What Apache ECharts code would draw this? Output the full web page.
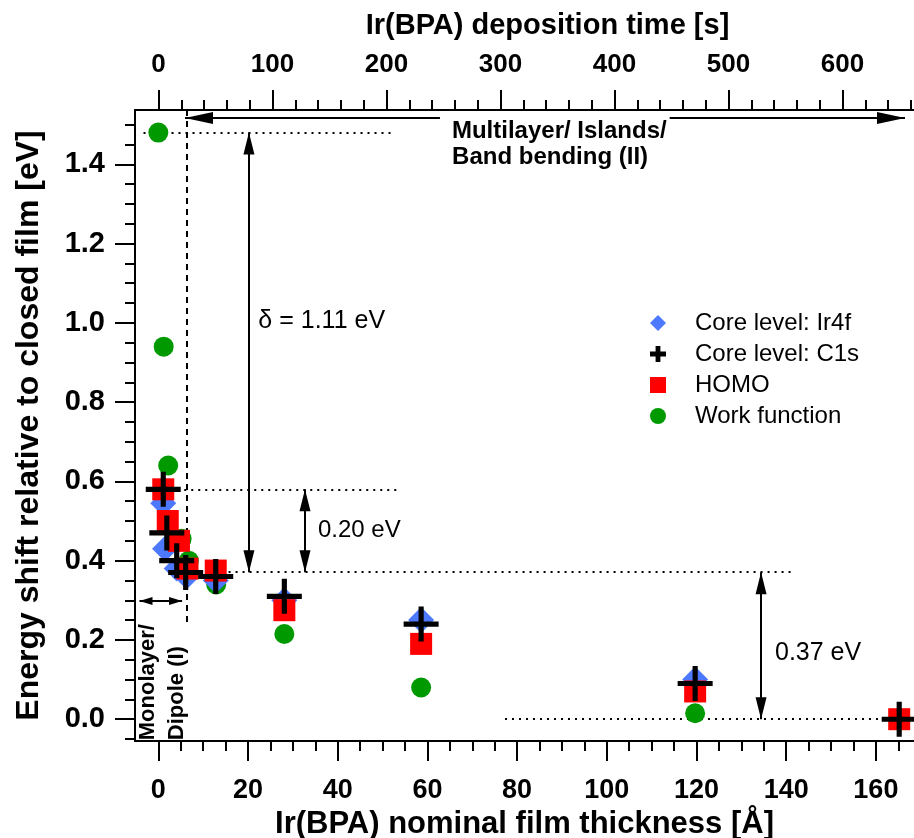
<!DOCTYPE html>
<html><head><meta charset="utf-8">
<script src="https://cdn.jsdelivr.net/npm/echarts@6/dist/echarts.min.js"></script>
<style>html,body{margin:0;padding:0;background:#fff;overflow:hidden}#c{width:914px;height:838px}</style>
</head><body><div id="c"></div>
<script>
// ---------- data ----------
const seriesNames = ['Core level: Ir4f', 'Core level: C1s', 'HOMO', 'Work function'];
const ir4fX = [1.1, 1.5, 4.1, 6.3, 12.8, 28.1, 58.6, 119.7, 165.2];
const ir4fY = [0.545, 0.43, 0.38, 0.36, 0.35, 0.30, 0.25, 0.10, 0.00];
const c1sX  = [1.1, 1.9, 4.1, 6.1, 12.8, 28.1, 58.6, 119.7, 165.2];
const c1sY  = [0.58, 0.47, 0.40, 0.37, 0.36, 0.31, 0.24, 0.09, 0.00];
const homoX = [1.1, 2.1, 4.6, 6.5, 12.8, 28.1, 58.6, 119.7, 165.2];
const homoY = [0.58, 0.50, 0.45, 0.38, 0.375, 0.275, 0.19, 0.07, 0.00];
const wfX   = [0, 1.2, 2.2, 5.2, 6.8, 12.9, 28.1, 58.6, 119.7];
const wfY   = [1.48, 0.94, 0.64, 0.455, 0.40, 0.34, 0.215, 0.08, 0.015];

const xTicks      = [0, 20, 40, 60, 80, 100, 120, 140, 160];
const xMinorTicks = [5,10,15,20,25,30,35,40,45,50,55,60,65,70,75,80,85,90,95,100,105,110,115,120,125,130,135,140,145,150,155,160,165];
const yTicks      = [0, 0.2, 0.4, 0.6, 0.8, 1.0, 1.2, 1.4];
const yMinorTicks = [-0.05,0,0.05,0.1,0.15,0.2,0.25,0.3,0.35,0.4,0.45,0.5,0.55,0.6,0.65,0.7,0.75,0.8,0.85,0.9,0.95,1.0,1.05,1.1,1.15,1.2,1.25,1.3,1.35,1.4,1.45,1.5];
const tTicks      = [0, 100, 200, 300, 400, 500, 600];
const tMinorTicks = [20,40,60,80,120,140,160,180,220,240,260,280,320,340,360,380,420,440,460,480,520,540,560,580,620,640,660];

const xRange = [-5.2, 168.5];
const yRange = [-0.055, 1.537];
const tRange = [-20.6, 662.7];

// annotation geometry in data units
const dottedLines = [
  [[-3.3, 1.48], [52.8, 1.48]],
  [[1.1, 0.58], [53.9, 0.58]],
  [[6.3, 0.371], [142, 0.371]],
  [[77.3, 0], [165, 0]]
];
const dashedLine = [[6.3, 1.537], [6.3, 0.235]];
const arrowLines = [
  [[5.95, 1.517], [166.5, 1.517]],
  [[20.2, 1.48], [20.2, 0.371]],
  [[32.7, 0.58], [32.7, 0.371]],
  [[134.4, 0.371], [134.4, 0]],
  [[-4.2, 0.298], [5.3, 0.298]]
];
const noteTexts = ['Multilayer/ Islands/', 'Band bending (II)', '\u03b4 = 1.11 eV', '0.20 eV', '0.37 eV', 'Monolayer/', 'Dipole (I)'];
const noteX = [62.8, 65.5, 22.3, 35.6, 137.5, -2.3, 4.2];
const noteY = [1.483, 1.417, 1.005, 0.477, 0.167, -0.053, -0.053];

// ---------- chart ----------
const FONT = "'Liberation Sans', Arial, sans-serif";
const zip = (xs, ys) => xs.map((x, i) => [x, ys[i]]);
const CROSS = 'path://M0,14.5L14.5,14.5L14.5,0L19.5,0L19.5,14.5L34,14.5L34,19.5L19.5,19.5L19.5,34L14.5,34L14.5,19.5L0,19.5Z';
const CROSS_ICON = 'path://M0,3.5L3.5,3.5L3.5,0L6.5,0L6.5,3.5L10,3.5L10,6.5L6.5,6.5L6.5,10L3.5,10L3.5,6.5L0,6.5Z';
const black = '#000';
const lineAx = {show: true, onZero: false, lineStyle: {color: black, width: 2}};

const arrowStyles = [
  {size: [12, 28]}, {size: [11, 22]}, {size: [11, 22]}, {size: [11, 22]}, {size: [8, 13]}
];

const mlData = [];
dottedLines.forEach(seg => {
  const ls = {type: [2, 5], width: 2, color: black};
  mlData.push([{coord: seg[0], lineStyle: ls, symbol: 'none'}, {coord: seg[1], lineStyle: ls, symbol: 'none'}]);
});
{
  const ls = {type: [6, 5], width: 2, color: black};
  mlData.push([{coord: dashedLine[0], lineStyle: ls, symbol: 'none'}, {coord: dashedLine[1], lineStyle: ls, symbol: 'none'}]);
}
arrowLines.forEach((seg, i) => {
  const ls = {type: 'solid', width: 2, color: black};
  const sz = arrowStyles[i].size;
  const p = {lineStyle: ls, symbol: 'triangle', symbolSize: sz, symbolOffset: [0, sz[1] / 2], itemStyle: {color: black}};
  mlData.push([Object.assign({coord: seg[0]}, p), Object.assign({coord: seg[1]}, p)]);
});

const noteStyles = [
  {fontSize: 24, fontWeight: 'bold', backgroundColor: '#fff', padding: [5, 3, 2, 12]},
  {fontSize: 24, fontWeight: 'bold'},
  {fontSize: 25},
  {fontSize: 24},
  {fontSize: 25},
  {fontSize: 22, fontWeight: 'bold', rotate: 90},
  {fontSize: 22, fontWeight: 'bold', rotate: 90}
];
const noteData = noteTexts.map((t, i) => ({
  value: [noteX[i], noteY[i]],
  name: t,
  label: Object.assign({show: true, formatter: t, position: 'inside', align: 'left', verticalAlign: 'middle',
    color: black, opacity: 1, fontFamily: FONT}, noteStyles[i])
}));

const chart = echarts.init(document.getElementById('c'), null, {renderer: 'canvas'});
chart.setOption({
  animation: false,
  backgroundColor: '#fff',
  textStyle: {fontFamily: FONT},
  grid: {left: 135, top: 110, right: 0, bottom: 97, containLabel: false, outerBoundsMode: 'none'},
  legend: {
    orient: 'vertical', left: 645, top: 306, itemWidth: 16, itemHeight: 16, itemGap: 7,
    textStyle: {fontSize: 24, color: black, fontFamily: FONT, padding: [0, 0, 0, 24]},
    selectedMode: false,
    data: [
      {name: seriesNames[0], icon: 'diamond'},
      {name: seriesNames[1], icon: CROSS_ICON},
      {name: seriesNames[2], icon: 'rect'},
      {name: seriesNames[3], icon: 'circle'}
    ]
  },
  xAxis: [
    {type: 'value', position: 'bottom', min: xRange[0], max: xRange[1], axisLine: lineAx, splitLine: {show: false},
     axisTick: {show: true, inside: false, length: 20, lineStyle: {color: black, width: 2}, customValues: xTicks},
     axisLabel: {show: true, customValues: xTicks, margin: 36, fontSize: 27, fontWeight: 'bold', color: black, fontFamily: FONT},
     name: 'Ir(BPA) nominal film thickness [\u00c5]', nameLocation: 'middle', nameGap: 65,
     nameTextStyle: {fontSize: 31, fontWeight: 'bold', color: black, fontFamily: FONT}},
    {type: 'value', position: 'bottom', min: xRange[0], max: xRange[1], axisLine: lineAx, splitLine: {show: false},
     axisTick: {show: true, inside: false, length: 10, lineStyle: {color: black, width: 2}, customValues: xMinorTicks},
     axisLabel: {show: false}},
    {type: 'value', position: 'top', min: tRange[0], max: tRange[1], axisLine: lineAx, splitLine: {show: false},
     axisTick: {show: true, inside: false, length: 20, lineStyle: {color: black, width: 2}, customValues: tTicks},
     axisLabel: {show: true, customValues: tTicks, margin: 32, fontSize: 26, fontWeight: 'bold', color: black, fontFamily: FONT},
     name: 'Ir(BPA) deposition time [s]', nameLocation: 'middle', nameGap: 70,
     nameTextStyle: {fontSize: 29, fontWeight: 'bold', color: black, fontFamily: FONT, padding: [0, 0, 0, 46]}},
    {type: 'value', position: 'top', min: tRange[0], max: tRange[1], axisLine: lineAx, splitLine: {show: false},
     axisTick: {show: true, inside: false, length: 10, lineStyle: {color: black, width: 2}, customValues: tMinorTicks},
     axisLabel: {show: false}}
  ],
  yAxis: [
    {type: 'value', position: 'left', min: yRange[0], max: yRange[1], axisLine: lineAx, splitLine: {show: false},
     axisTick: {show: true, inside: false, length: 20, lineStyle: {color: black, width: 2}, customValues: yTicks},
     axisLabel: {show: true, customValues: yTicks, margin: 30, fontSize: 29, fontWeight: 'bold', color: black, fontFamily: FONT,
       formatter: v => v.toFixed(1)},
     name: 'Energy shift relative to closed film [eV]', nameLocation: 'middle', nameGap: 90,
     nameTextStyle: {fontSize: 32, fontWeight: 'bold', color: black, fontFamily: FONT}},
    {type: 'value', position: 'left', min: yRange[0], max: yRange[1], axisLine: lineAx, splitLine: {show: false},
     axisTick: {show: true, inside: false, length: 10, lineStyle: {color: black, width: 2}, customValues: yMinorTicks},
     axisLabel: {show: false}}
  ],
  series: [
    {name: seriesNames[3], type: 'scatter', data: zip(wfX, wfY), symbol: 'circle', symbolSize: 20, z: 2,
     itemStyle: {color: '#009900', opacity: 1},
     markLine: {silent: true, animation: false, symbol: ['none', 'none'], label: {show: false}, z: 1,
       emphasis: {disabled: true}, data: mlData}},
    {name: seriesNames[0], type: 'scatter', data: zip(ir4fX, ir4fY), symbol: 'diamond', symbolSize: 26, z: 3,
     itemStyle: {color: '#4d79ff', opacity: 1}},
    {name: seriesNames[2], type: 'scatter', data: zip(homoX, homoY), symbol: 'rect', symbolSize: 22, z: 4,
     itemStyle: {color: '#ff0000', opacity: 1}},
    {name: seriesNames[1], type: 'scatter', data: zip(c1sX, c1sY), symbol: CROSS, symbolSize: 35, z: 5,
     itemStyle: {color: black, opacity: 1}},
    {name: 'notes', type: 'scatter', data: noteData, symbolSize: 0, z: 6, silent: true,
     itemStyle: {color: 'transparent', opacity: 1}}
  ]
});
</script></body></html>
